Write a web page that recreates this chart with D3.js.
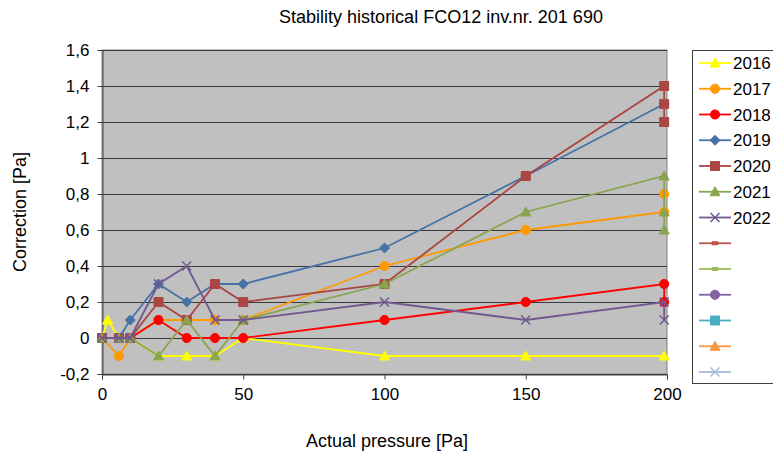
<!DOCTYPE html>
<html><head><meta charset="utf-8">
<script src="https://cdn.jsdelivr.net/npm/d3@7"></script>
<style>
html,body{margin:0;padding:0;background:#fff;}
svg text{font-family:"Liberation Sans",Arial,sans-serif;fill:#000;}
</style></head>
<body><svg id="c" width="773" height="457"></svg>
<script>
// ---- data ----
const years = ["2016","2017","2018","2019","2020","2021","2022"];
const p2016 = [0,2,6,10,20,30,40,50,100,150,199];
const v2016 = [0,0.1,0,0,-0.1,-0.1,-0.1,0,-0.1,-0.1,-0.1];
const p2017 = [0,6,10,20,30,40,50,100,150,199,199];
const v2017 = [0,-0.1,0,0.1,0.1,0.1,0.1,0.4,0.6,0.7,0.8];
const p2018 = [0,6,10,20,30,40,50,100,150,199,199];
const v2018 = [0,0,0,0.1,0,0,0,0.1,0.2,0.3,0.2];
const p2019 = [0,6,10,20,30,40,50,100,150,199];
const v2019 = [0,0,0.1,0.3,0.2,0.3,0.3,0.5,0.9,1.3];
const p2020 = [0,6,10,20,30,40,50,100,150,199,199,199];
const v2020 = [0,0,0,0.2,0.1,0.3,0.2,0.3,0.9,1.4,1.3,1.2];
const p2021 = [0,6,10,20,30,40,50,100,150,199,199,199];
const v2021 = [0,0,0,-0.1,0.1,-0.1,0.1,0.3,0.7,0.9,0.7,0.6];
const p2022 = [0,6,10,20,30,40,50,100,150,199,199];
const v2022 = [0,0,0,0.3,0.4,0.1,0.1,0.2,0.1,0.2,0.1];
const xTicks = [0,50,100,150,200];
const yTicks = [-0.2,0,0.2,0.4,0.6,0.8,1,1.2,1.4,1.6];
const titleText = "Stability historical FCO12 inv.nr. 201 690";
const xTitle = "Actual pressure [Pa]";
const yTitle = "Correction [Pa]";

const pressures = [p2016,p2017,p2018,p2019,p2020,p2021,p2022];
const values = [v2016,v2017,v2018,v2019,v2020,v2021,v2022];
const colors = ["#FFFF00","#FF9900","#FF0000","#4572A7","#AA4643","#89A54E","#71588F"];
const shapes = ["tri","circle","circle","diamond","square","tri","x"];
const extraLegend = [
  {c:"#C0504D",s:"dash"},{c:"#9BBB59",s:"dash"},{c:"#8064A2",s:"circle"},
  {c:"#4BACC6",s:"square"},{c:"#F79646",s:"tri"},{c:"#A5B9DC",s:"x"}];

const svg = d3.select("#c");
const L=102, R=667, T=50, B=374;
const x = d3.scaleLinear().domain([0,200]).range([L,R]);
const y = d3.scaleLinear().domain([-0.2,1.6]).range([B,T]);
const fmt = d => (Math.abs(d)<1e-9 ? "0" : String(+d.toFixed(1)).replace(".",","));

svg.append("rect").attr("x",L).attr("y",T).attr("width",R-L).attr("height",B-T)
  .attr("fill","#C0C0C0").attr("stroke","#808080").attr("stroke-width",1);

// gridlines
svg.append("g").selectAll("line").data(yTicks).join("line")
  .attr("x1",L).attr("x2",R).attr("y1",d=>Math.round(y(d))+0.5).attr("y2",d=>Math.round(y(d))+0.5)
  .attr("stroke","#3a3a3a").attr("stroke-width",1);

// axes
const yAxis = d3.axisLeft(y).tickValues(yTicks).tickFormat(fmt).tickSizeOuter(0).tickSize(5).tickPadding(8);
const gy = svg.append("g").attr("transform",`translate(${L+0.5},0)`).call(yAxis);
gy.selectAll("text").attr("font-size",17).style("font-family","Liberation Sans, Arial, sans-serif");
gy.select(".domain").attr("stroke","#404040");
gy.selectAll(".tick line").attr("stroke","#404040");
const xAxis = d3.axisBottom(x).tickValues(xTicks).tickFormat(d=>d).tickSizeOuter(0).tickSize(5).tickPadding(8);
const gx = svg.append("g").attr("transform",`translate(0,${B+0.5})`).call(xAxis);
gx.selectAll("text").attr("font-size",17).style("font-family","Liberation Sans, Arial, sans-serif");
gx.select(".domain").attr("stroke","#404040");
gx.selectAll(".tick line").attr("stroke","#404040");

function symPath(s, k){
  k = k||1;
  switch(s){
    case "tri": return `M0,${-5*k}L${5*k},${4*k}L${-5*k},${4*k}Z`;
    case "circle": return d3.symbol(d3.symbolCircle, 66*k*k)();
    case "diamond": return `M0,${-5*k}L${5*k},0L0,${5*k}L${-5*k},0Z`;
    case "square": return `M${-4.5*k},${-4.5*k}H${4.5*k}V${4.5*k}H${-4.5*k}Z`;
    case "x": return `M${-4.5*k},${-4.5*k}L${4.5*k},${4.5*k}M${-4.5*k},${4.5*k}L${4.5*k},${-4.5*k}`;
    case "dash": return `M${-3*k},${-1.5*k}H${3*k}V${1.5*k}H${-3*k}Z`;
  }
}

const line = d3.line().x(d=>x(d[0])).y(d=>y(d[1]));
const plot = svg.append("g");
years.forEach((yr,i)=>{
  const pts = pressures[i].map((p,j)=>[p,values[i][j]]);
  const g = plot.append("g");
  g.append("path").datum(pts).attr("d",line).attr("fill","none")
    .attr("stroke",colors[i]).attr("stroke-width",1.8);
  g.selectAll("path.m").data(pts).join("path").attr("class","m")
    .attr("transform",d=>`translate(${x(d[0])},${y(d[1])})`)
    .attr("d",symPath(shapes[i]))
    .attr("fill",shapes[i]==="x"?"none":colors[i])
    .attr("stroke",colors[i]).attr("stroke-width",shapes[i]==="x"?1.5:1);
});

// title and axis titles
svg.append("text").attr("x",441).attr("y",23).attr("text-anchor","middle")
  .attr("font-size",18).text(titleText);
svg.append("text").attr("x",387).attr("y",447).attr("text-anchor","middle")
  .attr("font-size",18).text(xTitle);
svg.append("text").attr("transform","translate(26,212) rotate(-90)").attr("text-anchor","middle")
  .attr("font-size",18).text(yTitle);

// legend
const lg = svg.append("g");
lg.append("rect").attr("x",692.5).attr("y",50.5).attr("width",100).attr("height",333)
  .attr("fill","#fff").attr("stroke","#404040");
const entries = years.map((yr,i)=>({label:yr,c:colors[i],s:shapes[i]}))
  .concat(extraLegend.map(e=>({label:"",c:e.c,s:e.s})));
const ly = d3.scaleLinear().domain([0,12]).range([63,372]);
entries.forEach((e,i)=>{
  const yy = ly(i);
  lg.append("line").attr("x1",699).attr("x2",731).attr("y1",yy).attr("y2",yy)
    .attr("stroke",e.c).attr("stroke-width",1.8);
  lg.append("path").attr("transform",`translate(715,${yy})`).attr("d",symPath(e.s))
    .attr("fill",e.s==="x"?"none":e.c).attr("stroke",e.c).attr("stroke-width",e.s==="x"?1.5:1);
  if(e.label) lg.append("text").attr("x",733).attr("y",yy+6).attr("font-size",17).text(e.label);
});
</script></body></html>
